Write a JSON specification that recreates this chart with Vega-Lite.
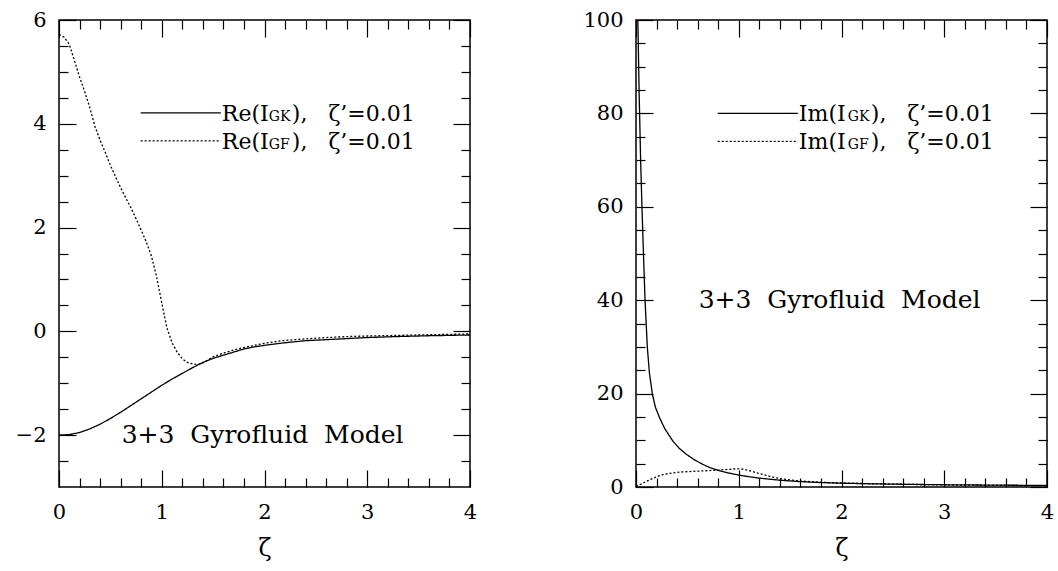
{
  "$schema": "https://vega.github.io/schema/vega-lite/v6.json",
  "background": "white",
  "padding": {"left": 14, "top": 8, "right": 5, "bottom": 5},
  "spacing": 104,
  "config": {
    "font": "DejaVu Serif",
    "view": {"stroke": "black", "strokeWidth": 1.5},
    "axis": {"grid": false, "domain": false, "tickColor": "black", "tickWidth": 1.2, "labelFont": "DejaVu Serif", "labelFontSize": 21, "labelColor": "black", "titleFont": "DejaVu Serif", "titleFontSize": 24, "titleFontWeight": "normal", "titleColor": "black", "labelFlush": false, "labelOverlap": false},
    "text": {"font": "DejaVu Serif", "color": "black"}
  },
  "datasets": {
    "re": [
      {"zeta": 0, "value": -2.0, "series": "GK"},
      {"zeta": 0.1, "value": -1.99, "series": "GK"},
      {"zeta": 0.2, "value": -1.95, "series": "GK"},
      {"zeta": 0.3, "value": -1.88, "series": "GK"},
      {"zeta": 0.4, "value": -1.79, "series": "GK"},
      {"zeta": 0.5, "value": -1.68, "series": "GK"},
      {"zeta": 0.6, "value": -1.56, "series": "GK"},
      {"zeta": 0.7, "value": -1.43, "series": "GK"},
      {"zeta": 0.8, "value": -1.3, "series": "GK"},
      {"zeta": 0.9, "value": -1.17, "series": "GK"},
      {"zeta": 1.0, "value": -1.04, "series": "GK"},
      {"zeta": 1.1, "value": -0.92, "series": "GK"},
      {"zeta": 1.2, "value": -0.81, "series": "GK"},
      {"zeta": 1.3, "value": -0.7, "series": "GK"},
      {"zeta": 1.4, "value": -0.6, "series": "GK"},
      {"zeta": 1.5, "value": -0.52, "series": "GK"},
      {"zeta": 1.6, "value": -0.46, "series": "GK"},
      {"zeta": 1.7, "value": -0.4, "series": "GK"},
      {"zeta": 1.8, "value": -0.34, "series": "GK"},
      {"zeta": 1.9, "value": -0.3, "series": "GK"},
      {"zeta": 2.0, "value": -0.27, "series": "GK"},
      {"zeta": 2.2, "value": -0.22, "series": "GK"},
      {"zeta": 2.4, "value": -0.18, "series": "GK"},
      {"zeta": 2.6, "value": -0.16, "series": "GK"},
      {"zeta": 2.8, "value": -0.14, "series": "GK"},
      {"zeta": 3.0, "value": -0.12, "series": "GK"},
      {"zeta": 3.3, "value": -0.1, "series": "GK"},
      {"zeta": 3.6, "value": -0.085, "series": "GK"},
      {"zeta": 4.0, "value": -0.07, "series": "GK"},
      {"zeta": 0, "value": 5.72, "series": "GF"},
      {"zeta": 0.05, "value": 5.67, "series": "GF"},
      {"zeta": 0.1, "value": 5.53, "series": "GF"},
      {"zeta": 0.15, "value": 5.22, "series": "GF"},
      {"zeta": 0.2, "value": 4.9, "series": "GF"},
      {"zeta": 0.25, "value": 4.62, "series": "GF"},
      {"zeta": 0.3, "value": 4.31, "series": "GF"},
      {"zeta": 0.35, "value": 3.95, "series": "GF"},
      {"zeta": 0.4, "value": 3.68, "series": "GF"},
      {"zeta": 0.45, "value": 3.45, "series": "GF"},
      {"zeta": 0.5, "value": 3.2, "series": "GF"},
      {"zeta": 0.55, "value": 2.98, "series": "GF"},
      {"zeta": 0.6, "value": 2.77, "series": "GF"},
      {"zeta": 0.65, "value": 2.57, "series": "GF"},
      {"zeta": 0.7, "value": 2.38, "series": "GF"},
      {"zeta": 0.75, "value": 2.17, "series": "GF"},
      {"zeta": 0.8, "value": 1.95, "series": "GF"},
      {"zeta": 0.85, "value": 1.72, "series": "GF"},
      {"zeta": 0.9, "value": 1.45, "series": "GF"},
      {"zeta": 0.95, "value": 1.05, "series": "GF"},
      {"zeta": 1.0, "value": 0.55, "series": "GF"},
      {"zeta": 1.05, "value": 0.07, "series": "GF"},
      {"zeta": 1.1, "value": -0.22, "series": "GF"},
      {"zeta": 1.15, "value": -0.4, "series": "GF"},
      {"zeta": 1.2, "value": -0.53, "series": "GF"},
      {"zeta": 1.25, "value": -0.6, "series": "GF"},
      {"zeta": 1.3, "value": -0.63, "series": "GF"},
      {"zeta": 1.35, "value": -0.64, "series": "GF"},
      {"zeta": 1.4, "value": -0.61, "series": "GF"},
      {"zeta": 1.5, "value": -0.49, "series": "GF"},
      {"zeta": 1.6, "value": -0.42, "series": "GF"},
      {"zeta": 1.7, "value": -0.36, "series": "GF"},
      {"zeta": 1.85, "value": -0.29, "series": "GF"},
      {"zeta": 2.0, "value": -0.23, "series": "GF"},
      {"zeta": 2.17, "value": -0.18, "series": "GF"},
      {"zeta": 2.4, "value": -0.145, "series": "GF"},
      {"zeta": 2.6, "value": -0.12, "series": "GF"},
      {"zeta": 2.82, "value": -0.1, "series": "GF"},
      {"zeta": 3.0, "value": -0.09, "series": "GF"},
      {"zeta": 3.5, "value": -0.07, "series": "GF"},
      {"zeta": 4.0, "value": -0.05, "series": "GF"}
    ],
    "im": [
      {"zeta": 0.018, "value": 100, "series": "GK"},
      {"zeta": 0.03, "value": 85, "series": "GK"},
      {"zeta": 0.045, "value": 70, "series": "GK"},
      {"zeta": 0.058, "value": 60, "series": "GK"},
      {"zeta": 0.071, "value": 51, "series": "GK"},
      {"zeta": 0.088, "value": 40, "series": "GK"},
      {"zeta": 0.11, "value": 30, "series": "GK"},
      {"zeta": 0.13, "value": 24.5, "series": "GK"},
      {"zeta": 0.16, "value": 19.8, "series": "GK"},
      {"zeta": 0.19, "value": 17, "series": "GK"},
      {"zeta": 0.23, "value": 14.8, "series": "GK"},
      {"zeta": 0.28, "value": 12.5, "series": "GK"},
      {"zeta": 0.36, "value": 9.8, "series": "GK"},
      {"zeta": 0.42, "value": 8.3, "series": "GK"},
      {"zeta": 0.49, "value": 7.0, "series": "GK"},
      {"zeta": 0.57, "value": 5.8, "series": "GK"},
      {"zeta": 0.65, "value": 4.85, "series": "GK"},
      {"zeta": 0.72, "value": 4.15, "series": "GK"},
      {"zeta": 0.8, "value": 3.56, "series": "GK"},
      {"zeta": 0.9, "value": 3.0, "series": "GK"},
      {"zeta": 1.0, "value": 2.55, "series": "GK"},
      {"zeta": 1.1, "value": 2.2, "series": "GK"},
      {"zeta": 1.2, "value": 1.9, "series": "GK"},
      {"zeta": 1.4, "value": 1.45, "series": "GK"},
      {"zeta": 1.6, "value": 1.15, "series": "GK"},
      {"zeta": 1.8, "value": 0.95, "series": "GK"},
      {"zeta": 2.0, "value": 0.82, "series": "GK"},
      {"zeta": 2.3, "value": 0.68, "series": "GK"},
      {"zeta": 2.6, "value": 0.58, "series": "GK"},
      {"zeta": 3.0, "value": 0.48, "series": "GK"},
      {"zeta": 3.5, "value": 0.4, "series": "GK"},
      {"zeta": 4.0, "value": 0.33, "series": "GK"},
      {"zeta": 0.0, "value": 0.2, "series": "GF"},
      {"zeta": 0.05, "value": 0.6, "series": "GF"},
      {"zeta": 0.1, "value": 1.2, "series": "GF"},
      {"zeta": 0.14, "value": 1.6, "series": "GF"},
      {"zeta": 0.2, "value": 2.2, "series": "GF"},
      {"zeta": 0.27, "value": 2.7, "series": "GF"},
      {"zeta": 0.35, "value": 3.0, "series": "GF"},
      {"zeta": 0.43, "value": 3.2, "series": "GF"},
      {"zeta": 0.55, "value": 3.35, "series": "GF"},
      {"zeta": 0.65, "value": 3.45, "series": "GF"},
      {"zeta": 0.75, "value": 3.56, "series": "GF"},
      {"zeta": 0.85, "value": 3.7, "series": "GF"},
      {"zeta": 0.95, "value": 3.85, "series": "GF"},
      {"zeta": 1.0, "value": 3.9, "series": "GF"},
      {"zeta": 1.05, "value": 3.8, "series": "GF"},
      {"zeta": 1.1, "value": 3.5, "series": "GF"},
      {"zeta": 1.2, "value": 2.9, "series": "GF"},
      {"zeta": 1.3, "value": 2.3, "series": "GF"},
      {"zeta": 1.4, "value": 1.8, "series": "GF"},
      {"zeta": 1.5, "value": 1.5, "series": "GF"},
      {"zeta": 1.6, "value": 1.3, "series": "GF"},
      {"zeta": 1.8, "value": 1.0, "series": "GF"},
      {"zeta": 2.0, "value": 0.85, "series": "GF"},
      {"zeta": 2.3, "value": 0.7, "series": "GF"},
      {"zeta": 2.6, "value": 0.58, "series": "GF"},
      {"zeta": 3.0, "value": 0.45, "series": "GF"},
      {"zeta": 3.5, "value": 0.35, "series": "GF"},
      {"zeta": 4.0, "value": 0.28, "series": "GF"}
    ],
    "legRe": [
      {"zeta": 0.795, "zeta2": 1.575, "tx": 1.585, "value": 4.21, "series": "GK", "pre": "Re(I", "sub": "GK", "post": "),\u00a0\u00a0\u00a0ζ’=0.01"},
      {"zeta": 0.795, "zeta2": 1.575, "tx": 1.585, "value": 3.67, "series": "GF", "pre": "Re(I", "sub": "GF", "post": "),\u00a0\u00a0\u00a0ζ’=0.01"}
    ],
    "legIm": [
      {"zeta": 0.795, "zeta2": 1.575, "tx": 1.585, "value": 80.0, "series": "GK", "pre": "Im(I", "sub": "GK", "post": "),\u00a0\u00a0\u00a0ζ’=0.01"},
      {"zeta": 0.795, "zeta2": 1.575, "tx": 1.585, "value": 74.0, "series": "GF", "pre": "Im(I", "sub": "GF", "post": "),\u00a0\u00a0\u00a0ζ’=0.01"}
    ],
    "noteRe": [{"zeta": 0.61, "value": -2.0, "text": "3+3\u00a0\u00a0Gyrofluid\u00a0\u00a0Model"}],
    "noteIm": [{"zeta": 0.61, "value": 40.0, "text": "3+3\u00a0\u00a0Gyrofluid\u00a0\u00a0Model"}]
  },
  "hconcat": [
    {
      "width": 411,
      "height": 467,
      "resolve": {"axis": {"x": "independent", "y": "independent"}},
      "layer": [
        {
          "data": {"name": "re"},
          "mark": {"type": "line", "color": "black", "strokeWidth": 1.3, "clip": true},
          "encoding": {
            "x": {"field": "zeta", "type": "quantitative", "scale": {"domain": [0, 4], "nice": false}, "axis": {"orient": "bottom", "ticks": false, "values": [0, 1, 2, 3, 4], "format": "d", "title": "ζ", "labelPadding": 14, "titlePadding": 14}},
            "y": {"field": "value", "type": "quantitative", "scale": {"domain": [-3, 6], "nice": false, "zero": false}, "axis": {"orient": "left", "ticks": false, "values": [-2, 0, 2, 4, 6], "format": "d", "title": null, "labelPadding": 13}},
            "strokeDash": {"field": "series", "type": "nominal", "scale": {"domain": ["GK", "GF"], "range": [[1, 0], [2, 2]]}, "legend": null}
          }
        },
        {
          "data": {"name": "legRe"},
          "mark": {"type": "rule", "color": "black", "strokeWidth": 1.2},
          "encoding": {
            "x": {"field": "zeta", "type": "quantitative", "scale": {"domain": [0, 4], "nice": false}, "axis": {"orient": "bottom", "labels": false, "tickSize": -17, "values": [0, 1, 2, 3, 4], "title": null}},
            "x2": {"field": "zeta2"},
            "y": {"field": "value", "type": "quantitative", "scale": {"domain": [-3, 6], "nice": false, "zero": false}, "axis": {"orient": "left", "labels": false, "tickSize": -17, "values": [-2, 0, 2, 4, 6], "title": null}},
            "strokeDash": {"field": "series", "type": "nominal", "scale": {"domain": ["GK", "GF"], "range": [[1, 0], [2, 2]]}, "legend": null}
          }
        },
        {
          "data": {"name": "legRe"},
          "mark": {"type": "text", "fontSize": 22, "align": "left", "baseline": "alphabetic", "dy": 8},
          "encoding": {
            "x": {"field": "tx", "type": "quantitative", "scale": {"domain": [0, 4], "nice": false}, "axis": {"orient": "bottom", "labels": false, "tickSize": -9, "values": [0.2, 0.4, 0.6, 0.8, 1.2, 1.4, 1.6, 1.8, 2.2, 2.4, 2.6, 2.8, 3.2, 3.4, 3.6, 3.8], "title": null}},
            "y": {"field": "value", "type": "quantitative", "scale": {"domain": [-3, 6], "nice": false, "zero": false}, "axis": {"orient": "left", "labels": false, "tickSize": -9, "values": [-2.5, -1.5, -1, -0.5, 0.5, 1, 1.5, 2.5, 3, 3.5, 4.5, 5, 5.5], "title": null}},
            "text": {"field": "pre"}
          }
        },
        {
          "data": {"name": "legRe"},
          "mark": {"type": "text", "fontSize": 14, "align": "left", "baseline": "alphabetic", "dy": 8, "dx": 47},
          "encoding": {
            "x": {"field": "tx", "type": "quantitative", "scale": {"domain": [0, 4], "nice": false}, "axis": {"orient": "top", "labels": false, "tickSize": -17, "values": [0, 1, 2, 3, 4], "title": null}},
            "y": {"field": "value", "type": "quantitative", "scale": {"domain": [-3, 6], "nice": false, "zero": false}, "axis": {"orient": "right", "labels": false, "tickSize": -17, "values": [-2, 0, 2, 4, 6], "title": null}},
            "text": {"field": "sub"}
          }
        },
        {
          "data": {"name": "legRe"},
          "mark": {"type": "text", "fontSize": 22, "align": "left", "baseline": "alphabetic", "dy": 8, "dx": 70},
          "encoding": {
            "x": {"field": "tx", "type": "quantitative", "scale": {"domain": [0, 4], "nice": false}, "axis": {"orient": "top", "labels": false, "tickSize": -9, "values": [0.2, 0.4, 0.6, 0.8, 1.2, 1.4, 1.6, 1.8, 2.2, 2.4, 2.6, 2.8, 3.2, 3.4, 3.6, 3.8], "title": null}},
            "y": {"field": "value", "type": "quantitative", "scale": {"domain": [-3, 6], "nice": false, "zero": false}, "axis": {"orient": "right", "labels": false, "tickSize": -9, "values": [-2.5, -1.5, -1, -0.5, 0.5, 1, 1.5, 2.5, 3, 3.5, 4.5, 5, 5.5], "title": null}},
            "text": {"field": "post"}
          }
        },
        {
          "data": {"name": "noteRe"},
          "mark": {"type": "text", "fontSize": 25, "align": "left", "baseline": "middle"},
          "encoding": {
            "x": {"field": "zeta", "type": "quantitative", "scale": {"domain": [0, 4], "nice": false}, "axis": null},
            "y": {"field": "value", "type": "quantitative", "scale": {"domain": [-3, 6], "nice": false, "zero": false}, "axis": null},
            "text": {"field": "text"}
          }
        }
      ]
    },
    {
      "width": 411,
      "height": 467,
      "resolve": {"axis": {"x": "independent", "y": "independent"}},
      "layer": [
        {
          "data": {"name": "im"},
          "mark": {"type": "line", "color": "black", "strokeWidth": 1.3, "clip": true},
          "encoding": {
            "x": {"field": "zeta", "type": "quantitative", "scale": {"domain": [0, 4], "nice": false}, "axis": {"orient": "bottom", "ticks": false, "values": [0, 1, 2, 3, 4], "format": "d", "title": "ζ", "labelPadding": 14, "titlePadding": 14}},
            "y": {"field": "value", "type": "quantitative", "scale": {"domain": [0, 100], "nice": false}, "axis": {"orient": "left", "ticks": false, "values": [0, 20, 40, 60, 80, 100], "format": "d", "title": null, "labelPadding": 13}},
            "strokeDash": {"field": "series", "type": "nominal", "scale": {"domain": ["GK", "GF"], "range": [[1, 0], [2, 2]]}, "legend": null}
          }
        },
        {
          "data": {"name": "legIm"},
          "mark": {"type": "rule", "color": "black", "strokeWidth": 1.2},
          "encoding": {
            "x": {"field": "zeta", "type": "quantitative", "scale": {"domain": [0, 4], "nice": false}, "axis": {"orient": "bottom", "labels": false, "tickSize": -17, "values": [0, 1, 2, 3, 4], "title": null}},
            "x2": {"field": "zeta2"},
            "y": {"field": "value", "type": "quantitative", "scale": {"domain": [0, 100], "nice": false}, "axis": {"orient": "left", "labels": false, "tickSize": -17, "values": [0, 20, 40, 60, 80, 100], "title": null}},
            "strokeDash": {"field": "series", "type": "nominal", "scale": {"domain": ["GK", "GF"], "range": [[1, 0], [2, 2]]}, "legend": null}
          }
        },
        {
          "data": {"name": "legIm"},
          "mark": {"type": "text", "fontSize": 22, "align": "left", "baseline": "alphabetic", "dy": 8},
          "encoding": {
            "x": {"field": "tx", "type": "quantitative", "scale": {"domain": [0, 4], "nice": false}, "axis": {"orient": "bottom", "labels": false, "tickSize": -9, "values": [0.2, 0.4, 0.6, 0.8, 1.2, 1.4, 1.6, 1.8, 2.2, 2.4, 2.6, 2.8, 3.2, 3.4, 3.6, 3.8], "title": null}},
            "y": {"field": "value", "type": "quantitative", "scale": {"domain": [0, 100], "nice": false}, "axis": {"orient": "left", "labels": false, "tickSize": -9, "values": [5, 10, 15, 25, 30, 35, 45, 50, 55, 65, 70, 75, 85, 90, 95], "title": null}},
            "text": {"field": "pre"}
          }
        },
        {
          "data": {"name": "legIm"},
          "mark": {"type": "text", "fontSize": 14, "align": "left", "baseline": "alphabetic", "dy": 8, "dx": 49},
          "encoding": {
            "x": {"field": "tx", "type": "quantitative", "scale": {"domain": [0, 4], "nice": false}, "axis": {"orient": "top", "labels": false, "tickSize": -17, "values": [0, 1, 2, 3, 4], "title": null}},
            "y": {"field": "value", "type": "quantitative", "scale": {"domain": [0, 100], "nice": false}, "axis": {"orient": "right", "labels": false, "tickSize": -17, "values": [0, 20, 40, 60, 80, 100], "title": null}},
            "text": {"field": "sub"}
          }
        },
        {
          "data": {"name": "legIm"},
          "mark": {"type": "text", "fontSize": 22, "align": "left", "baseline": "alphabetic", "dy": 8, "dx": 72},
          "encoding": {
            "x": {"field": "tx", "type": "quantitative", "scale": {"domain": [0, 4], "nice": false}, "axis": {"orient": "top", "labels": false, "tickSize": -9, "values": [0.2, 0.4, 0.6, 0.8, 1.2, 1.4, 1.6, 1.8, 2.2, 2.4, 2.6, 2.8, 3.2, 3.4, 3.6, 3.8], "title": null}},
            "y": {"field": "value", "type": "quantitative", "scale": {"domain": [0, 100], "nice": false}, "axis": {"orient": "right", "labels": false, "tickSize": -9, "values": [5, 10, 15, 25, 30, 35, 45, 50, 55, 65, 70, 75, 85, 90, 95], "title": null}},
            "text": {"field": "post"}
          }
        },
        {
          "data": {"name": "noteIm"},
          "mark": {"type": "text", "fontSize": 25, "align": "left", "baseline": "middle"},
          "encoding": {
            "x": {"field": "zeta", "type": "quantitative", "scale": {"domain": [0, 4], "nice": false}, "axis": null},
            "y": {"field": "value", "type": "quantitative", "scale": {"domain": [0, 100], "nice": false}, "axis": null},
            "text": {"field": "text"}
          }
        }
      ]
    }
  ]
}
